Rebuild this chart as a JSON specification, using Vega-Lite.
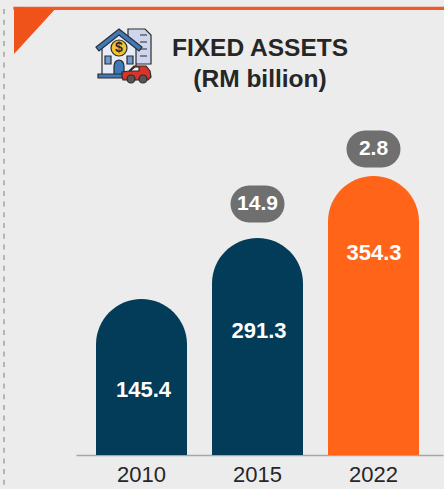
{
"$schema":"https://vega.github.io/schema/vega-lite/v6.json",
"width":444,"height":455,"autosize":"none",
"padding":{"left":0,"top":0,"right":0,"bottom":34},
"background":"#ececec",
"config":{"view":{"stroke":null},"font":"Liberation Sans"},
"title":{"text":["FIXED ASSETS","(RM billion)"],"font":"Liberation Sans","fontSize":24.5,"fontWeight":"bold","color":"#262626","anchor":"middle","frame":"group","dx":38,"offset":0,"dy":92,"lineHeight":31},
"datasets":{
"bars":[
{"year":"2010","value":145.4,"shown":156},
{"year":"2015","value":291.3,"shown":217,"change":14.9},
{"year":"2022","value":354.3,"shown":279,"change":2.8}
],
"parts":[
{"part":"topline"},{"part":"triangle"},{"part":"doc"},{"part":"doclines"},{"part":"body"},{"part":"roof"},{"part":"coin"},{"part":"win1"},{"part":"win2"},{"part":"door"},{"part":"ground"},{"part":"car"},{"part":"glass"},{"part":"wheel1"},{"part":"wheel2"}
]
},
"data":{"name":"bars"},
"resolve":{"scale":{"x":"independent","shape":"independent","fill":"independent","stroke":"independent"}},
"layer":[
{"data":{"name":"parts"},
 "mark":{"type":"point","size":4,"filled":true,"opacity":1,"strokeWidth":1.2},
 "encoding":{
  "x":{"datum":124,"type":"quantitative","scale":{"domain":[0,444],"range":[0,444]},"axis":null},
  "y":{"datum":399,"type":"quantitative","scale":{"domain":[0,455],"range":[455,0]},"axis":null},
  "shape":{"field":"part","type":"nominal","legend":null,"scale":{"domain":["topline","triangle","doc","doclines","body","roof","coin","win1","win2","door","ground","car","glass","wheel1","wheel2"],"range":[
   "M-110,-48.6 L320,-48.6 L320,-46.6 L-110,-46.6 Z",
   "M-109.4,-48.4 L-70.5,-46 L-109.4,-3.5 Z",
   "M4,-27 L21,-27 L27,-21 L27,8 L4,8 Z",
   "M16,-21 L23,-21 M16,-14 L23,-14 M16,-7 L23,-7 M16,0 L23,0",
   "M-22,-11 L-5,-24 L12,-11 L12,20 L-22,20 Z",
   "M-5,-27 L18,-9 L15,-5 L-5,-21 L-25,-5 L-28,-9 Z",
   "M-13,-8 A8,8 0 1,0 3,-8 A8,8 0 1,0 -13,-8 Z",
   "M-19,0 L-13,0 L-13,8 L-19,8 Z",
   "M3,0 L9,0 L9,8 L3,8 Z",
   "M-10,20 L-10,10 A5,6 0 0 1 0,10 L0,20 Z",
   "M-26,18 L2,18 L2,22 L-26,22 Z",
   "M-2,21 L-2,16 L5,15 L10,10 L22,10 L26,15 L27,21 L24,24 L-1,24 Z",
   "M6,15 L11,11 L15,11 L15,15 Z",
   "M3,23 A4,4 0 1,0 11,23 A4,4 0 1,0 3,23 Z",
   "M15,23 A4,4 0 1,0 23,23 A4,4 0 1,0 15,23 Z"
  ]}},
  "fill":{"field":"part","type":"nominal","legend":null,"scale":{"domain":["topline","triangle","doc","doclines","body","roof","coin","win1","win2","door","ground","car","glass","wheel1","wheel2"],"range":["#ef5a28","#f05319","#ced6ee","#ced6ee","#e8ecf7","#3f79b9","#f2c230","#6f9bd1","#6f9bd1","#3f79b9","#3f79b9","#d8342c","#f4f4f4","#555555","#555555"]}},
  "stroke":{"field":"part","type":"nominal","legend":null,"scale":{"domain":["topline","triangle","doc","doclines","body","roof","coin","win1","win2","door","ground","car","glass","wheel1","wheel2"],"range":["#ef5a28","#f05319","#2b2b2b","#2b2b2b","#2b2b2b","#2b2b2b","#2b2b2b","#2b2b2b","#2b2b2b","#2b2b2b","#2b2b2b","#2b2b2b","#2b2b2b","#2b2b2b","#2b2b2b"]}}
 }},
{"data":{"values":[{"text":"$"}]},
 "mark":{"type":"text","font":"Liberation Sans","fontWeight":"bold","fontSize":14,"color":"#2b2b2b","baseline":"middle","align":"center"},
 "encoding":{
  "x":{"datum":119,"type":"quantitative","scale":{"domain":[0,444],"range":[0,444]},"axis":null},
  "y":{"datum":407,"type":"quantitative","scale":{"domain":[0,455],"range":[455,0]},"axis":null},
  "text":{"field":"text"}
 }},
{"data":{"values":[{"from":446,"to":-34}]},
 "mark":{"type":"rule","stroke":"#a3a3a3","strokeWidth":1.5,"strokeDash":[5,5.7]},
 "encoding":{
  "x":{"datum":4,"type":"quantitative","scale":{"domain":[0,444],"range":[0,444]},"axis":null},
  "y":{"field":"from","type":"quantitative","scale":{"domain":[0,455],"range":[455,0]},"axis":null},
  "y2":{"field":"to"}
 }},
{"mark":{"type":"bar","cornerRadiusTopLeft":45.5,"cornerRadiusTopRight":45.5},
 "encoding":{
  "x":{"field":"year","type":"nominal","sort":null,"scale":{"type":"band","domain":["2010","2015","2022"],"range":[76,443],"paddingInner":0.2155,"paddingOuter":0.1897,"align":0.4545},
   "axis":{"title":null,"ticks":false,"labelAngle":0,"labelFontSize":22,"labelColor":"#262626","labelFont":"Liberation Sans","labelPadding":9,"domainColor":"#a6a6a6","domainWidth":1.5,"grid":false}},
  "y":{"field":"shown","type":"quantitative","scale":{"domain":[0,455],"range":[455,0]},"axis":null},
  "fill":{"field":"year","type":"nominal","legend":null,"scale":{"domain":["2010","2015","2022"],"range":["#033c58","#033c58","#ff6418"]}}
 }},
{"transform":[{"filter":"datum.change != null"}],
 "mark":{"type":"point","filled":true,"opacity":1,"size":4,"fill":"#6f6f6f","shape":"M-8.5,-18.5 L8.5,-18.5 A18.5,18.5 0 0 1 8.5,18.5 L-8.5,18.5 A18.5,18.5 0 0 1 -8.5,-18.5 Z","yOffset":{"expr":"datum.year=='2015'?-34:-27"}},
 "encoding":{
  "x":{"field":"year","type":"nominal","scale":{"type":"band","domain":["2010","2015","2022"],"range":[76,443],"paddingInner":0.2155,"paddingOuter":0.1897,"align":0.4545},"axis":null},
  "y":{"field":"shown","type":"quantitative","scale":{"domain":[0,455],"range":[455,0]},"axis":null}
 }},
{"transform":[{"filter":"datum.change != null"}],
 "mark":{"type":"text","font":"Liberation Sans","fontWeight":"bold","fontSize":21,"color":"#ffffff","baseline":"middle","dy":{"expr":"datum.year=='2015'?-34:-27"}},
 "encoding":{
  "x":{"field":"year","type":"nominal","scale":{"type":"band","domain":["2010","2015","2022"],"range":[76,443],"paddingInner":0.2155,"paddingOuter":0.1897,"align":0.4545},"axis":null},
  "y":{"field":"shown","type":"quantitative","scale":{"domain":[0,455],"range":[455,0]},"axis":null},
  "text":{"field":"change","format":".1f"}
 }},
{"mark":{"type":"text","font":"Liberation Sans","fontWeight":"bold","fontSize":22,"color":"#ffffff","baseline":"middle","dx":{"expr":"datum.year=='2010'?2:datum.year=='2015'?1.5:0.5"},"dy":{"expr":"datum.year=='2010'?91:datum.year=='2015'?93:77"}},
 "encoding":{
  "x":{"field":"year","type":"nominal","scale":{"type":"band","domain":["2010","2015","2022"],"range":[76,443],"paddingInner":0.2155,"paddingOuter":0.1897,"align":0.4545},"axis":null},
  "y":{"field":"shown","type":"quantitative","scale":{"domain":[0,455],"range":[455,0]},"axis":null},
  "text":{"field":"value","format":".1f"}
 }}
]
}
